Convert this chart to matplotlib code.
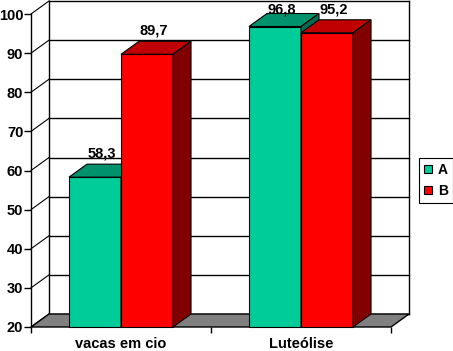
import matplotlib.pyplot as plt
from matplotlib.patches import Polygon, Patch

plt.rcParams["font.family"] = ["Liberation Sans", "DejaVu Sans"]

categories = ["vacas em cio", "Luteólise"]
series_names = ["A", "B"]
values_a = [58.3, 96.8]
values_b = [89.7, 95.2]
y_ticks = [20, 30, 40, 50, 60, 70, 80, 90, 100]

colors = {
    "A": ("#00CC99", "#00916D", "#006B50"),  # front, top, side
    "B": ("#FF0000", "#C00000", "#800000"),
}

W, H = 453, 351
fig = plt.figure(figsize=(W / 100, H / 100), dpi=100)
ax = fig.add_axes([31 / W, (H - 327) / H, 360 / W, 313 / H])
ax.set_xlim(-0.5, 1.5)
ax.set_ylim(20, 100)

# depth of the 3d box in data units
dx = 18 / 180
dy = 13 * 80 / 313
bw = 0.289
px = 80 / 313  # one pixel in value units

x0, x1, y0, y1 = -0.5, 1.5, 20, 100

# floor
ax.add_patch(Polygon([(x0, y0), (x1, y0), (x1 + dx, y0 + dy), (x0 + dx, y0 + dy)],
                     closed=True, fc="#808080", ec="black", lw=1, clip_on=False, zorder=1))
# back wall and side wall gridlines
for v in y_ticks:
    ax.plot([x0 + dx, x1 + dx], [v + dy, v + dy], color="black", lw=1, clip_on=False, zorder=0.5)
    ax.plot([x0, x0 + dx], [v, v + dy], color="black", lw=0.8, clip_on=False, zorder=0.5)
ax.plot([x0 + dx, x0 + dx], [y0 + dy, y1 + dy], color="black", lw=1, clip_on=False, zorder=0.5)
ax.plot([x1 + dx, x1 + dx], [y0 + dy, y1 + dy], color="black", lw=1, clip_on=False, zorder=0.5)


def bar3d(xl, v, name, z):
    front, top, side = colors[name]
    ax.add_patch(Polygon([(xl, y0), (xl + bw, y0), (xl + bw, v), (xl, v)],
                         closed=True, fc=front, ec="black", lw=0.8, clip_on=False, zorder=z))
    ax.add_patch(Polygon([(xl, v), (xl + bw, v), (xl + bw + dx, v + dy), (xl + dx, v + dy)],
                         closed=True, fc=top, ec="black", lw=0.8, clip_on=False, zorder=z))
    ax.add_patch(Polygon([(xl + bw, y0), (xl + bw + dx, y0 + dy), (xl + bw + dx, v + dy), (xl + bw, v)],
                         closed=True, fc=side, ec="black", lw=0.8, clip_on=False, zorder=z))
    # label sits above the top face, but never above the chart area
    ty = min(v + dy + 6.5 * px, y1 + px)
    ax.text(xl + bw / 2 + dx * 0.4, ty, f"{v:.1f}".replace(".", ","),
            ha="center", va="baseline", fontsize=10.5, fontweight="bold", zorder=10)


for i in range(len(categories)):
    bar3d(i - bw, values_a[i], "A", 2 + i)
    bar3d(i, values_b[i], "B", 2.5 + i)

# axes
for s in ["top", "right", "bottom"]:
    ax.spines[s].set_visible(False)
ax.spines["left"].set_linewidth(1)
ax.set_yticks(y_ticks)
ax.set_yticklabels([str(t) for t in y_ticks], fontsize=10.5, fontweight="bold")
ax.tick_params(axis="y", length=5, width=1, pad=0.5)
ax.set_xticks([-0.5, 0.5, 1.5])
ax.set_xticklabels([])
ax.tick_params(axis="x", which="major", length=4, width=1)
ax.set_xticks([0, 1], minor=True)
ax.set_xticklabels(categories, minor=True, fontsize=10.5, fontweight="bold")
ax.tick_params(axis="x", which="minor", length=0, pad=7)
ax.patch.set_visible(False)

handles = [Patch(fc=colors[n][0], ec="black", lw=0.8) for n in series_names]
leg = fig.legend(handles, series_names, loc="upper left",
                 bbox_to_anchor=(419 / W, 1 - 158 / H), borderaxespad=0,
                 prop={"size": 10, "weight": "bold"}, fancybox=False, edgecolor="black",
                 handlelength=0.6, handleheight=0.6, handletextpad=0.4,
                 borderpad=0.35, labelspacing=0.5, framealpha=1)
leg.get_frame().set_linewidth(0.8)

fig.savefig("out.png", dpi=100)
